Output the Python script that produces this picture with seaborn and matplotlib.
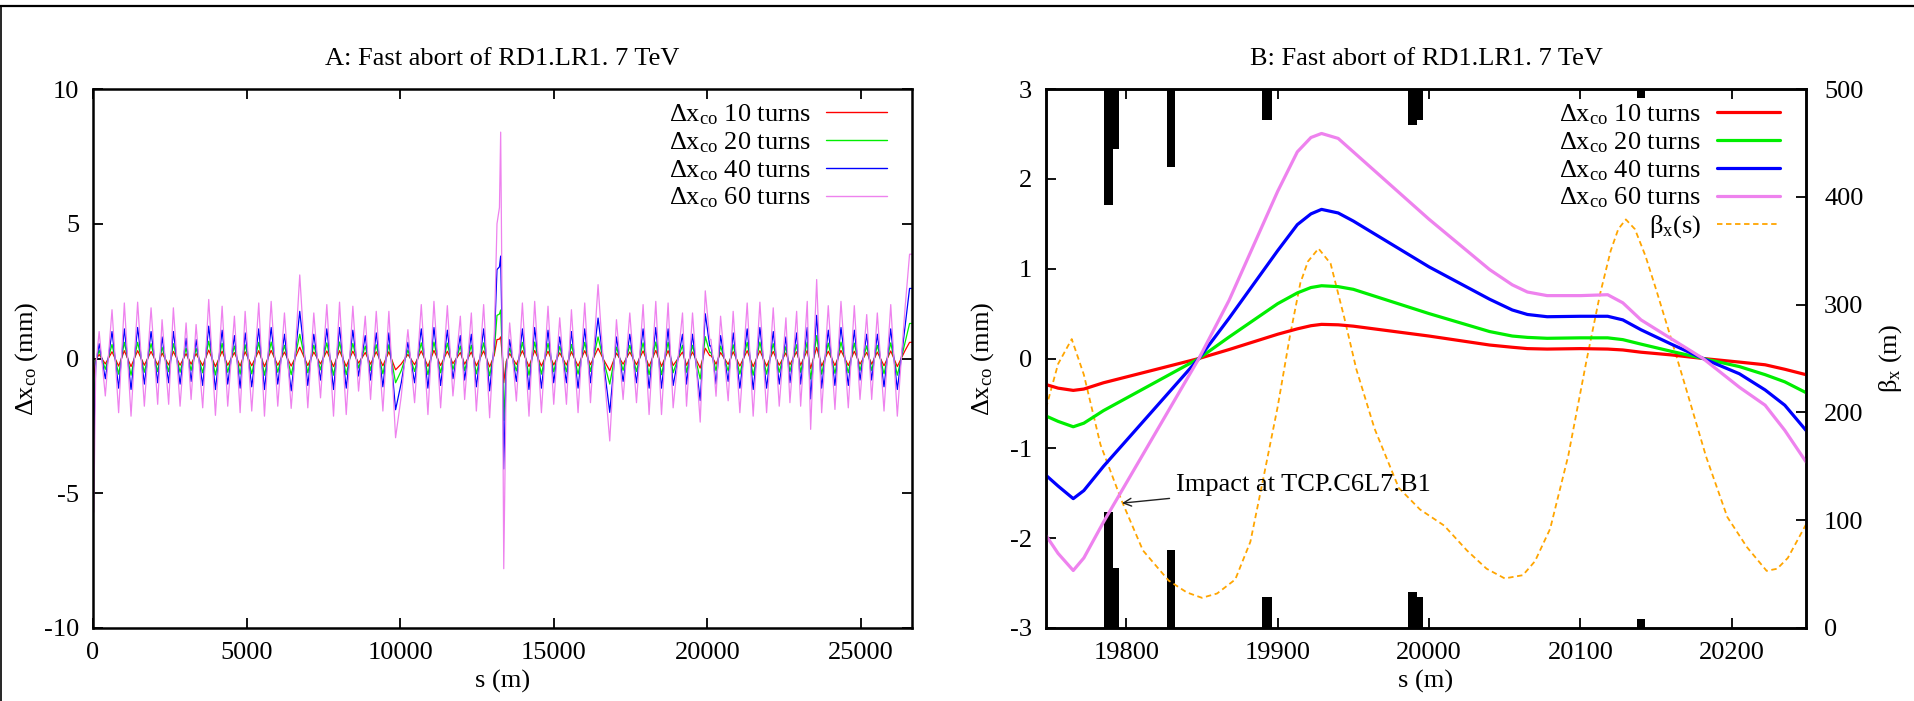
import numpy as np
import pandas as pd
import matplotlib
matplotlib.use("Agg")
import matplotlib.pyplot as plt
import seaborn as sns
from matplotlib.lines import Line2D

# ---------------- Panel A data (whole ring) ----------------
s_ring = [25, 90, 200, 401, 619, 834, 1020, 1238, 1453, 1671,
          1890, 2105, 2248, 2463, 2616, 2834, 3030, 3193, 3356, 3571,
          3767, 3985, 4203, 4385, 4603, 4789, 4952, 5167, 5395, 5581,
          5799, 6014, 6232, 6451, 6560, 6730, 6992, 7187, 7406, 7611,
          7829, 8025, 8243, 8458, 8644, 8862, 9035, 9220, 9436, 9631,
          9849, 10034, 10250, 10468, 10686, 10902, 11098, 11315, 11534, 11716,
          11957, 12097, 12315, 12478, 12716, 12911, 13060, 13150, 13230, 13270,
          13330, 13370, 13450, 13563, 13781, 13977, 14192, 14377, 14596, 14811,
          14997, 15192, 15411, 15573, 15789, 16006, 16193, 16440, 16620, 16821,
          17039, 17255, 17473, 17691, 17906, 18101, 18319, 18505, 18720, 18884,
          19189, 19320, 19515, 19765, 19848, 19930, 20075, 20113, 20181, 20280,
          20428, 20675, 20838, 21056, 21294, 21489, 21708, 21926, 22142, 22337,
          22555, 22685, 22904, 23034, 23249, 23360, 23556, 23718, 23933, 24151,
          24347, 24585, 24781, 24966, 25185, 25347, 25530, 25748, 25967, 26181,
          26330, 26435, 26580, 26659]

ring_10 = [-0.7, -0.05, 0.15, -0.2, 0.25, -0.28, 0.29, -0.3, 0.29, -0.25,
           0.26, -0.24, 0.2, -0.24, 0.26, -0.25, 0.18, -0.21, 0.18, -0.26,
           0.31, -0.3, 0.27, -0.25, 0.22, -0.28, 0.25, -0.27, 0.29, -0.3,
           0.3, -0.25, 0.24, -0.28, -0.03, 0.42, -0.26, 0.24, -0.2, 0.28,
           -0.3, 0.29, -0.29, 0.27, -0.17, 0.22, -0.21, 0.25, -0.27, 0.25,
           -0.42, -0.2, 0.15, -0.23, 0.28, -0.29, 0.3, -0.26, 0.27, -0.19,
           0.22, -0.21, 0.24, -0.27, 0.28, -0.31, 0.12, 0.7, 0.72, 0.8,
           0.0, -0.9, -0.11, 0.18, -0.22, 0.29, -0.3, 0.3, -0.28, 0.27,
           -0.24, 0.21, -0.24, 0.25, -0.28, 0.29, -0.23, 0.38, -0.04, -0.45,
           0.2, -0.21, 0.24, -0.23, 0.28, -0.29, 0.3, -0.29, 0.29, -0.26,
           0.24, -0.25, 0.24, -0.355, 0.0, 0.38, 0.105, 0.11, 0.0, -0.21,
           0.22, -0.22, 0.25, -0.28, 0.29, -0.3, 0.29, -0.28, 0.26, -0.25,
           0.21, -0.23, 0.25, -0.25, 0.3, -0.37, 0.41, -0.28, 0.27, -0.26,
           0.3, -0.26, 0.27, -0.21, 0.23, -0.21, 0.24, -0.27, 0.28, -0.3,
           0.05, 0.3, 0.6, 0.6]

ring_20 = [-1.6, -0.1, 0.3, -0.4, 0.52, -0.58, 0.6, -0.62, 0.6, -0.51,
           0.55, -0.49, 0.42, -0.49, 0.55, -0.51, 0.38, -0.44, 0.37, -0.53,
           0.64, -0.61, 0.56, -0.51, 0.46, -0.58, 0.51, -0.57, 0.6, -0.62,
           0.61, -0.51, 0.49, -0.6, -0.05, 0.9, -0.53, 0.49, -0.42, 0.58,
           -0.62, 0.61, -0.6, 0.56, -0.35, 0.46, -0.44, 0.51, -0.57, 0.51,
           -0.9, -0.45, 0.31, -0.48, 0.58, -0.6, 0.61, -0.53, 0.57, -0.4,
           0.46, -0.44, 0.49, -0.57, 0.58, -0.64, 0.25, 1.6, 1.65, 1.8,
           0.0, -2.3, -0.23, 0.38, -0.46, 0.6, -0.62, 0.61, -0.58, 0.56,
           -0.49, 0.44, -0.49, 0.52, -0.58, 0.6, -0.48, 0.8, -0.08, -0.95,
           0.42, -0.44, 0.49, -0.48, 0.58, -0.6, 0.61, -0.6, 0.6, -0.53,
           0.49, -0.51, 0.49, -0.76, 0.0, 0.81, 0.225, 0.23, 0.0, -0.45,
           0.46, -0.46, 0.51, -0.58, 0.6, -0.62, 0.61, -0.58, 0.55, -0.51,
           0.44, -0.48, 0.51, -0.51, 0.61, -0.76, 0.85, -0.58, 0.57, -0.55,
           0.61, -0.53, 0.57, -0.44, 0.47, -0.44, 0.49, -0.57, 0.58, -0.62,
           0.1, 0.6, 1.3, 1.3]

ring_40 = [-3.0, -0.2, 0.55, -0.75, 1.0, -1.1, 1.1, -1.15, 1.15, -0.95,
           1.0, -0.9, 0.8, -0.9, 1.0, -0.95, 0.75, -0.85, 0.7, -1.0,
           1.2, -1.15, 1.05, -0.95, 0.85, -1.1, 0.95, -1.05, 1.1, -1.15,
           1.15, -0.95, 0.9, -1.2, -0.1, 1.75, -1.0, 0.9, -0.8, 1.1,
           -1.15, 1.15, -1.1, 1.05, -0.65, 0.85, -0.8, 0.95, -1.05, 0.95,
           -1.9, -0.9, 0.6, -0.9, 1.1, -1.1, 1.15, -1.0, 1.05, -0.75,
           0.85, -0.8, 0.9, -1.05, 1.1, -1.2, 0.5, 3.3, 3.4, 3.8,
           0.0, -4.1, -0.45, 0.7, -0.85, 1.1, -1.15, 1.15, -1.1, 1.05,
           -0.9, 0.8, -0.9, 1.0, -1.1, 1.1, -0.9, 1.5, -0.15, -2.0,
           0.8, -0.85, 0.9, -0.9, 1.1, -1.1, 1.15, -1.1, 1.1, -1.0,
           0.9, -0.95, 0.9, -1.56, 0.0, 1.66, 0.465, 0.47, 0.0, -0.95,
           0.85, -0.85, 0.95, -1.1, 1.1, -1.15, 1.15, -1.1, 1.0, -0.95,
           0.8, -0.9, 0.95, -0.95, 1.15, -1.5, 1.6, -1.1, 1.05, -1.0,
           1.15, -1.0, 1.05, -0.8, 0.9, -0.8, 0.9, -1.05, 1.1, -1.15,
           0.2, 1.2, 2.6, 2.6]

ring_60 = [-5.7, -0.3, 1.0, -1.39, 1.81, -2.01, 2.06, -2.14, 2.09, -1.77,
           1.88, -1.70, 1.44, -1.70, 1.88, -1.77, 1.32, -1.52, 1.26, -1.83,
           2.19, -2.11, 1.94, -1.77, 1.57, -2.01, 1.75, -1.95, 2.06, -2.14,
           2.12, -1.77, 1.69, -1.85, -0.2, 3.1, -1.83, 1.69, -1.46, 2.0,
           -2.14, 2.09, -2.08, 1.94, -1.21, 1.57, -1.52, 1.75, -1.95, 1.75,
           -2.94, -1.4, 1.07, -1.64, 2.0, -2.08, 2.12, -1.83, 1.96, -1.39,
           1.57, -1.52, 1.69, -1.95, 2.0, -2.2, 0.8, 5.0, 5.6, 8.4,
           0.0, -7.8, -0.8, 1.32, -1.58, 2.06, -2.14, 2.12, -2.01, 1.94,
           -1.70, 1.51, -1.70, 1.81, -2.01, 2.06, -1.64, 2.74, -0.3, -3.06,
           1.44, -1.52, 1.69, -1.64, 2.0, -2.08, 2.12, -2.08, 2.06, -1.83,
           1.69, -1.77, 1.69, -2.36, 0.0, 2.51, 0.70, 0.71, 0.0, -1.40,
           1.57, -1.57, 1.75, -2.01, 2.06, -2.14, 2.09, -2.01, 1.88, -1.77,
           1.51, -1.64, 1.75, -1.77, 2.12, -2.63, 2.93, -2.01, 1.96, -1.89,
           2.12, -1.83, 1.96, -1.52, 1.63, -1.52, 1.69, -1.95, 2.0, -2.14,
           0.3, 1.9, 3.87, 3.87]

# ---------------- Panel B data (zoom around IR7) ----------------
s_zoom = [19747, 19755, 19765, 19772, 19785, 19848, 19868, 19900, 19913, 19922,
          19929, 19940, 19950, 20000, 20040, 20055, 20065, 20078, 20100, 20118,
          20128, 20140, 20160, 20181, 20205, 20222, 20235, 20249]
zoom_10 = [-0.29, -0.33, -0.355, -0.34, -0.27, 0.0, 0.10, 0.27, 0.33, 0.365,
           0.38, 0.375, 0.36, 0.25, 0.15, 0.125, 0.11, 0.105, 0.11, 0.105,
           0.095, 0.07, 0.04, 0.0, -0.04, -0.07, -0.12, -0.18]
zoom_20 = [-0.64, -0.70, -0.76, -0.72, -0.58, 0.0, 0.24, 0.61, 0.73, 0.79,
           0.81, 0.80, 0.77, 0.50, 0.30, 0.25, 0.235, 0.225, 0.23, 0.23,
           0.21, 0.16, 0.08, 0.0, -0.09, -0.18, -0.26, -0.38]
zoom_40 = [-1.30, -1.42, -1.56, -1.47, -1.20, 0.0, 0.45, 1.20, 1.49, 1.61,
           1.66, 1.62, 1.53, 1.02, 0.66, 0.54, 0.49, 0.465, 0.47, 0.47,
           0.43, 0.32, 0.16, 0.0, -0.17, -0.35, -0.52, -0.80]
zoom_60 = [-1.97, -2.17, -2.36, -2.22, -1.82, 0.0, 0.65, 1.86, 2.30, 2.46,
           2.505, 2.45, 2.30, 1.55, 0.99, 0.82, 0.74, 0.70, 0.70, 0.71,
           0.62, 0.43, 0.22, 0.0, -0.32, -0.52, -0.80, -1.15]

s_beta = [19747, 19755, 19764, 19772, 19783, 19797, 19811, 19828, 19840, 19850,
          19860, 19872, 19882, 19890, 19900, 19908, 19915, 19920, 19927, 19935,
          19944, 19952, 19964, 19980, 19994, 20010, 20025, 20038, 20050, 20062,
          20070, 20080, 20092, 20104, 20113, 20120, 20125, 20130, 20136, 20143,
          20150, 20160, 20170, 20183, 20197, 20210, 20223, 20230, 20237, 20249]
beta_x = [204, 245, 268, 235, 170, 118, 72, 44, 33, 28,
          32, 45, 80, 135, 205, 270, 320, 340, 352, 338,
          288, 240, 185, 130, 110, 95, 72, 55, 46, 49,
          62, 92, 160, 248, 310, 350, 370, 379, 370, 345,
          314, 268, 221, 159, 103, 75, 53, 55, 65, 96]

# aperture markers (drawn from both bottom and top of the beta axis)
elem_start = [19785.5, 19791.3, 19826.6, 19890.0, 19986.3, 19992.3, 20137.4]
elem_width = [5.8, 3.7, 5.9, 6.5, 6.0, 3.7, 5.3]
elem_height = [108, 56, 72, 29, 33, 29, 8]

series_names = ["10 turns", "20 turns", "40 turns", "60 turns"]
series_colors = ["#ff0000", "#00ee00", "#0000ff", "#ee82ee"]
beta_color = "#ffa500"

# ---------------- style ----------------
sns.set_theme(style="ticks")
plt.rcParams["font.family"] = ["Liberation Serif", "DejaVu Serif"]
plt.rcParams["mathtext.fontset"] = "custom"
plt.rcParams["mathtext.rm"] = "Liberation Serif"
plt.rcParams["mathtext.it"] = "Liberation Serif:italic"
plt.rcParams["axes.unicode_minus"] = False
plt.rcParams["font.size"] = 19
plt.rcParams["axes.edgecolor"] = "black"
plt.rcParams["text.color"] = "black"
plt.rcParams["axes.labelcolor"] = "black"
plt.rcParams["xtick.color"] = "black"
plt.rcParams["ytick.color"] = "black"

FS = 19
fig = plt.figure(figsize=(19.15, 7.01), dpi=100)
fig.patch.set_facecolor("white")
W, H = 1915.0, 701.0
axA = fig.add_axes([93 / W, 1 - 628 / H, 819 / W, 539 / H])
axB = fig.add_axes([1046 / W, 1 - 628 / H, 760 / W, 539 / H])

labels = ["Δx$_{\\mathrm{co}}$ " + n for n in series_names]
pal = dict(zip(labels, series_colors))
ylab = "Δx$_{\\mathrm{co}}$ (mm)"

# panel A
rows = []
for lab, vals in zip(labels, [ring_10, ring_20, ring_40, ring_60]):
    for s, v in zip(s_ring, vals):
        rows.append((lab, s, v))
dfA = pd.DataFrame(rows, columns=["series", "s", "dx"])
sns.lineplot(data=dfA, x="s", y="dx", hue="series", hue_order=labels,
             palette=pal, estimator=None, sort=False, lw=0.9, legend=False, ax=axA)
axA.set_xlim(0, 26659)
axA.set_ylim(-10, 10)
axA.set_xticks([0, 5000, 10000, 15000, 20000, 25000])
axA.set_yticks([-10, -5, 0, 5, 10])
axA.set_title("A: Fast abort of RD1.LR1. 7 TeV", fontsize=FS, pad=17)
axA.set_xlabel("s (m)", fontsize=FS, labelpad=4)
axA.set_ylabel(ylab, fontsize=FS, labelpad=3)
axA.tick_params(direction="in", length=7, width=1.3, top=True, right=True,
                labelsize=FS, pad=10)
hA = [Line2D([], [], color=c, lw=1.0) for c in series_colors]
axA.legend(hA, labels, loc="upper right", bbox_to_anchor=(0.9695, 0.975),
           frameon=False, markerfirst=False, handlelength=2.3, handletextpad=0.6,
           labelspacing=0.12, borderpad=0, borderaxespad=0, fontsize=FS)

# panel B
rows = []
for lab, vals in zip(labels, [zoom_10, zoom_20, zoom_40, zoom_60]):
    for s, v in zip(s_zoom, vals):
        rows.append((lab, s, v))
dfB = pd.DataFrame(rows, columns=["series", "s", "dx"])
ax2 = axB.twinx()
ax2.bar(elem_start, elem_height, width=elem_width, align="edge", color="black",
        linewidth=0)
ax2.bar(elem_start, elem_height, width=elem_width, align="edge", color="black",
        linewidth=0, bottom=[500 - h for h in elem_height])
sns.lineplot(x=s_beta, y=beta_x, ax=ax2, color=beta_color, lw=1.3,
             linestyle=(0, (3, 2)), estimator=None, sort=False)
ax2.set_ylim(0, 500)
ax2.set_yticks([0, 100, 200, 300, 400, 500])
ax2.set_ylabel("β$_{\\mathrm{x}}$ (m)", fontsize=FS, labelpad=10)
ax2.tick_params(direction="in", length=7, width=1.3, labelsize=FS, pad=13)

sns.lineplot(data=dfB, x="s", y="dx", hue="series", hue_order=labels,
             palette=pal, estimator=None, sort=False, lw=2.3, legend=False, ax=axB)
axB.set_zorder(ax2.get_zorder() + 1)
axB.patch.set_visible(False)
axB.set_xlim(19747, 20249)
axB.set_ylim(-3, 3)
axB.set_xticks([19800, 19900, 20000, 20100, 20200])
axB.set_yticks([-3, -2, -1, 0, 1, 2, 3])
axB.set_title("B: Fast abort of RD1.LR1. 7 TeV", fontsize=FS, pad=17)
axB.set_xlabel("s (m)", fontsize=FS, labelpad=4)
axB.set_ylabel(ylab, fontsize=FS, labelpad=10)
axB.tick_params(direction="in", length=7, width=1.3, top=True, right=False,
                labelsize=FS, pad=10)
axB.annotate("Impact at TCP.C6L7.B1", xy=(19797.2, -1.61), xytext=(19832.6, -1.41),
             ha="left", va="center", fontsize=FS,
             arrowprops=dict(arrowstyle="->", color="#222222", lw=1.0,
                             shrinkA=2, shrinkB=0, mutation_scale=14))
hB = [Line2D([], [], color=c, lw=2.3) for c in series_colors]
hB.append(Line2D([], [], color=beta_color, lw=1.3, linestyle=(0, (3, 2))))
axB.legend(hB, labels + ["β$_{\\mathrm{x}}$(s)"], loc="upper right",
           bbox_to_anchor=(0.9658, 0.975), frameon=False, markerfirst=False,
           handlelength=2.4, handletextpad=0.6, labelspacing=0.12, borderpad=0,
           borderaxespad=0, fontsize=FS)

for ax in (axA, axB, ax2):
    for sp in ax.spines.values():
        sp.set_linewidth(1.8)
        sp.set_color("black")

# page frame (top and left edges)
fig.add_artist(Line2D([0, 1], [1 - 6 / H, 1 - 6 / H], transform=fig.transFigure,
                      color="black", lw=1.6))
fig.add_artist(Line2D([1 / W, 1 / W], [0, 1 - 6 / H], transform=fig.transFigure,
                      color="black", lw=1.2))

fig.savefig("out.png", dpi=100, facecolor="white")
